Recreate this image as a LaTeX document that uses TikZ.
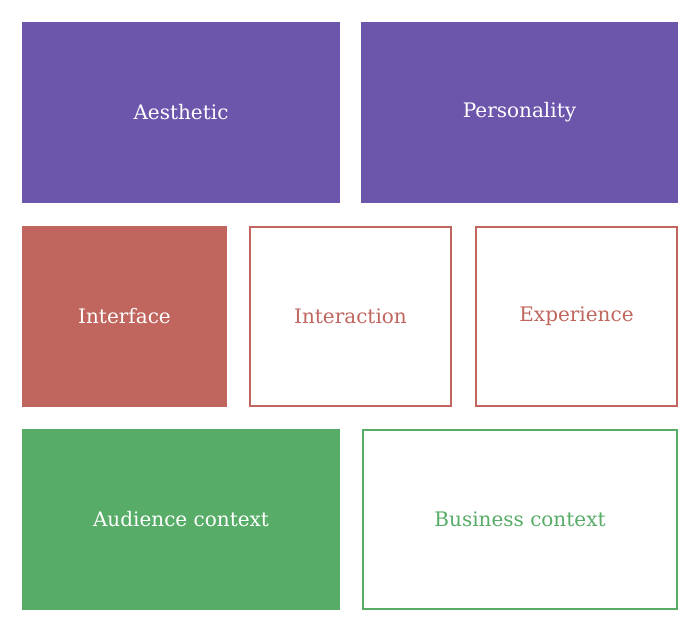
\documentclass[tikz,border=0pt]{standalone}
\usepackage{fontspec}
\setmainfont{DejaVu Serif}
\definecolor{pur}{HTML}{6C56AC}
\definecolor{rd}{HTML}{C0665E}
\definecolor{gr}{HTML}{57AC68}
\begin{document}
\begin{tikzpicture}[x=1pt,y=-1pt,
  lbl/.style={font=\fontsize{20}{24}\selectfont\addfontfeature{FakeStretch=1}},
  fillbox/.style={fill=#1,draw=#1,line width=1.5pt},
  openbox/.style={draw=#1,line width=1.5pt,fill=white}]
\useasboundingbox (0,0) rectangle (700,632);
\draw[fillbox=pur] (23,23) rectangle (339,202) node[midway,white,lbl] (a) {Aesthetic};
\draw[fillbox=pur] (362,23) rectangle (677,202) node[midway,white,lbl] (p) {Personality};
\draw[fillbox=rd] (23,227) rectangle (226,406) node[midway,white,lbl] (i) {Interface};
\draw[openbox=rd] (250,227) rectangle (451,406) node[midway,rd,lbl] (n) {Interaction};
\draw[openbox=rd] (476,227) rectangle (677,406) node[midway,rd,lbl] (e) {Experience};
\draw[fillbox=gr] (23,430) rectangle (339,609) node[midway,white,lbl] (u) {Audience context};
\draw[openbox=gr] (363,430) rectangle (677,609) node[midway,gr,lbl] (b) {Business context};
\end{tikzpicture}
\end{document}
